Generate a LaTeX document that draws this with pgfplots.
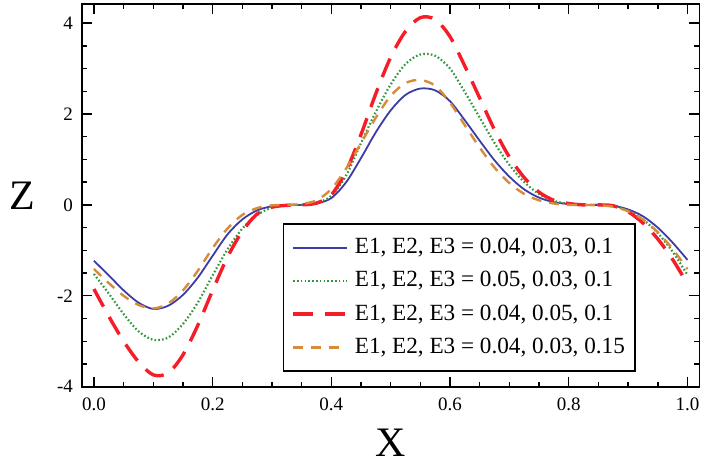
\documentclass[border=0pt]{standalone}
\usepackage{fontspec}
\setmainfont{Liberation Serif}
\usepackage{pgfplots}
\usepackage{pgfplotstable}
\pgfplotsset{compat=1.18}
\definecolor{cblue}{RGB}{60,60,165}
\definecolor{cgreen}{RGB}{50,150,60}
\definecolor{cred}{RGB}{245,30,40}
\definecolor{corange}{RGB}{215,140,60}

\pgfplotstableread{
x     blue   green  red    orange
0.000 -1.23  -1.52  -1.85  -1.41
0.025 -1.55  -1.95  -2.45  -1.72
0.050 -1.88  -2.40  -3.00  -2.00
0.075 -2.15  -2.78  -3.45  -2.20
0.100 -2.29  -2.97  -3.74  -2.28
0.125 -2.22  -2.92  -3.70  -2.17
0.150 -1.98  -2.62  -3.30  -1.88
0.175 -1.60  -2.15  -2.65  -1.45
0.200 -1.12  -1.55  -1.88  -0.95
0.225 -0.65  -0.98  -1.15  -0.52
0.250 -0.32  -0.52  -0.58  -0.22
0.275 -0.12  -0.22  -0.20  -0.07
0.300 -0.03  -0.06  -0.05  -0.01
0.325  0.00  -0.01  -0.01   0.00
0.350  0.00   0.00   0.00   0.02
0.375  0.03   0.04   0.04   0.10
0.400  0.15   0.20   0.22   0.35
0.425  0.50   0.65   0.75   0.80
0.450  1.03   1.36   1.55   1.36
0.475  1.60   2.05   2.45   1.92
0.500  2.08   2.65   3.25   2.40
0.525  2.42   3.10   3.82   2.68
0.550  2.56   3.31   4.12   2.75
0.575  2.52   3.28   4.08   2.62
0.600  2.28   3.00   3.70   2.25
0.625  1.86   2.48   3.05   1.75
0.650  1.41   1.92   2.35   1.26
0.675  0.98   1.36   1.65   0.82
0.700  0.62   0.88   1.05   0.48
0.725  0.34   0.50   0.60   0.24
0.750  0.16   0.24   0.28   0.10
0.775  0.06   0.09   0.10   0.03
0.800  0.02   0.02   0.03   0.00
0.825  0.00   0.00   0.00   0.00
0.850  0.00   0.00   0.00  -0.01
0.875 -0.02  -0.02  -0.02  -0.04
0.900 -0.10  -0.12  -0.15  -0.14
0.925 -0.25  -0.32  -0.40  -0.32
0.950 -0.50  -0.62  -0.75  -0.60
0.975 -0.83  -1.03  -1.20  -0.97
1.000 -1.21  -1.54  -1.74  -1.41
}\datatable

\begin{document}
\begin{tikzpicture}
\begin{axis}[
  name=ax,
  scale only axis,
  width=309pt, height=191.5pt,
  xmin=-0.0202, xmax=1.0202,
  ymin=-4, ymax=4.42,
  xtick={0,0.2,0.4,0.6,0.8,1},
  ytick={-4,-2,0,2,4},
  minor x tick num=3,
  minor y tick num=3,
  x tick label style={/pgf/number format/fixed, /pgf/number format/fixed zerofill, /pgf/number format/precision=1, yshift=-2pt},
  /pgf/number format/assume math mode=true,
  tick align=inside,
  major tick length=5pt,
  minor tick length=2.5pt,
  tick style={black, line width=0.7pt},
  axis line style={black, line width=0.9pt},
  tick label style={font=\fontsize{9.5}{10}\selectfont},
  y tick label style={xshift=-1pt},
  xlabel={X}, ylabel={Z},
  every axis x label/.style={at={(axis description cs:0.5,0)}, anchor=center, yshift=-28pt, font=\fontsize{21}{22}\selectfont},
  every axis y label/.style={at={(axis description cs:0,0.5)}, anchor=center, xshift=-30pt, font=\fontsize{21}{22}\selectfont},
  legend cell align=left,
  legend image code/.code={\draw[#1] (0pt,0pt) -- (27pt,0pt);},
  legend style={at={(axis description cs:0.325,0.428)}, anchor=north west,
    draw=black, line width=0.9pt, fill=white,
    font=\fontsize{11.6}{12}\selectfont,
    inner xsep=4pt, inner ysep=5.5pt,
    row sep=3.6pt, column sep=2pt,
    nodes={inner sep=1pt, text height=8.5pt, text depth=2.5pt}},
]
\addplot[cblue, line width=0.9pt, smooth] table[x=x,y=blue] {\datatable};
\addlegendentry{E1, E2, E3 = 0.04, 0.03, 0.1}
\addplot[cgreen, line width=1.1pt, dash pattern=on 0.8pt off 1.1pt, smooth] table[x=x,y=green] {\datatable};
\addlegendentry{E1, E2, E3 = 0.05, 0.03, 0.1}
\addplot[cred, line width=1.7pt, dash pattern=on 10pt off 6pt, smooth] table[x=x,y=red] {\datatable};
\addlegendentry{E1, E2, E3 = 0.04, 0.05, 0.1}
\addplot[corange, line width=1.2pt, dash pattern=on 5pt off 4pt, smooth] table[x=x,y=orange] {\datatable};
\addlegendentry{E1, E2, E3 = 0.04, 0.03, 0.15}
\end{axis}
\path ([xshift=-41pt,yshift=-39pt]ax.south west) ([xshift=3pt,yshift=2pt]ax.north east);
\end{tikzpicture}
\end{document}
